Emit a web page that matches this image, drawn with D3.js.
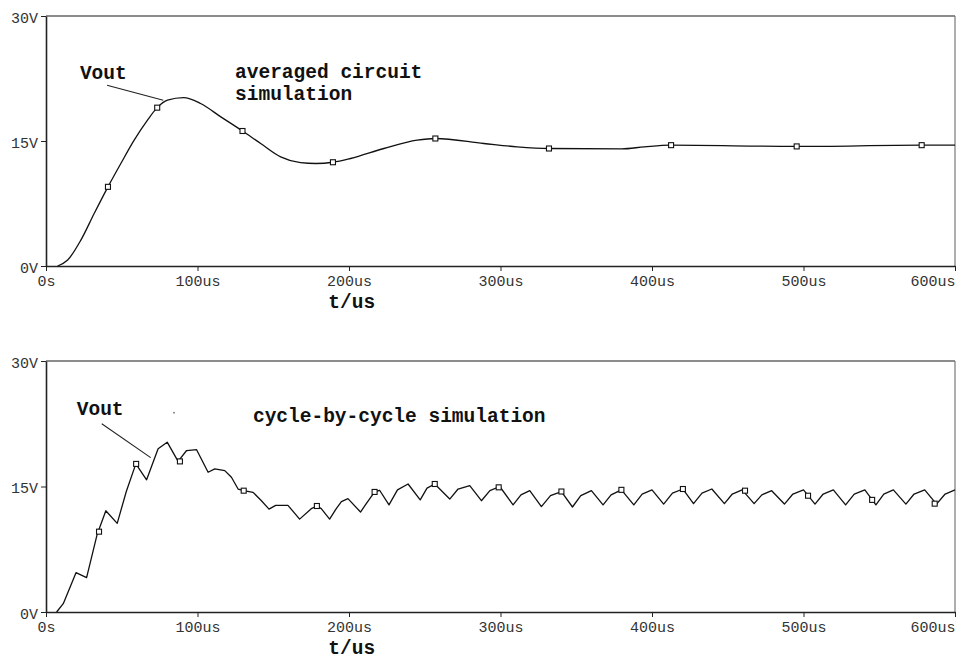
<!DOCTYPE html>
<html>
<head>
<meta charset="utf-8">
<script src="https://d3js.org/d3.v7.min.js"></script>
<style>
  body { margin: 0; background: #fff; }
  svg { display: block; }
  .tick text { font-family: "Liberation Mono", monospace; font-size: 15px; fill: #333; }
  .note { font-family: "Liberation Mono", monospace; font-size: 19.5px; font-weight: bold; fill: #111; }
</style>
</head>
<body>
<div id="chart"></div>
<script>
// time ticks (us) and labels
const timeTicks = [0, 100, 200, 300, 400, 500, 600];
const timeLabels = ["0s", "100us", "200us", "300us", "400us", "500us", "600us"];
const voltTicks = [0, 15, 30];
const voltLabels = ["0V", "15V", "30V"];

// averaged circuit simulation: [t(us), Vout(V)]
const avgCurve = [
    [7.7, 0], [14.3, 0.72], [23, 3.1], [31.8, 6.3], [40.9, 9.5], [49.4, 12.3],
    [58.2, 15.1], [67, 17.5], [73.4, 19.0], [80.2, 19.9], [90.8, 20.2], [102, 19.5],
    [115.4, 17.9], [129.7, 16.2], [141.7, 14.7], [154.9, 13.1], [168, 12.4], [178, 12.3],
    [189.4, 12.45], [201, 12.9], [223, 14.1], [245, 15.1], [257, 15.3], [289, 14.7],
    [311, 14.3], [332, 14.1], [380, 14.05], [395, 14.3], [412, 14.5], [495, 14.35],
    [578, 14.5], [600, 14.5]
];
const avgMarkers = [
    [40.9, 9.5], [73.4, 19.0], [129.7, 16.2], [189.4, 12.45], [257, 15.3],
    [332, 14.1], [412.6, 14.5], [495.5, 14.35], [578, 14.5]
];

// cycle-by-cycle simulation: [t(us), Vout(V)]
const cycleCurve = [
    [7, 0], [11.4, 1.0], [19.8, 4.7], [26.8, 4.1], [33.8, 9.3], [39.5, 12.1],
    [47, 10.6], [53, 14.4], [59.3, 17.7], [66.4, 15.8], [74, 19.5], [80, 20.3],
    [87.2, 18.0], [92.8, 19.3], [99.4, 19.4], [107, 16.7], [111.4, 17.1], [118, 16.9],
    [122.4, 16.1], [126.8, 14.7], [130.5, 14.5], [136.7, 14.3], [142.2, 13.3], [147.2, 12.3],
    [151.6, 12.75], [159.7, 12.75], [167.4, 11.1], [175.1, 12.35], [178.8, 12.67], [181.7, 12.35],
    [187.2, 11.1], [191.6, 12.35], [195, 13.2], [199.3, 13.55], [207.6, 11.95], [211.4, 12.95],
    [216.9, 14.35], [220.2, 14.55], [226.4, 12.8], [232, 14.6], [239, 15.3], [247, 13.4],
    [251.5, 14.8], [256.6, 15.3], [266.5, 13.5], [272, 14.7], [279.7, 15.1], [287.4, 13.3],
    [293, 14.5], [299.5, 15.0], [308.3, 12.8], [313.5, 14.0], [319.3, 14.5], [327, 12.6],
    [333, 13.9], [340.2, 14.4], [347.5, 12.55], [353, 13.9], [360, 14.5], [367.7, 12.8],
    [373, 14.0], [379.8, 14.6], [388, 12.8], [393.5, 14.1], [400, 14.6], [407.7, 12.9],
    [413.5, 14.2], [420.4, 14.7], [427.4, 12.95], [433, 14.2], [439.5, 14.7], [447.8, 12.95],
    [453, 14.1], [459.5, 14.6], [467.4, 12.95], [472.5, 14.0], [479, 14.5], [487.4, 12.9],
    [493, 14.1], [500, 14.6], [507.6, 12.9], [513, 14.1], [519.7, 14.6], [527.8, 12.8],
    [533.5, 14.1], [540.5, 14.6], [547.8, 12.8], [553, 14.1], [559.3, 14.6], [567.6, 12.9],
    [573, 14.1], [580, 14.6], [587.8, 12.9], [593.5, 14.1], [600, 14.6]
];
const cycleMarkers = [
    [35, 9.6], [59.5, 17.7], [88.4, 18.0], [130.5, 14.5], [178.8, 12.67], [216.9, 14.35],
    [256.6, 15.3], [298.8, 14.9], [340.2, 14.4], [379.8, 14.6], [420.4, 14.7], [461.4, 14.5],
    [503, 13.9], [545.3, 13.4], [586.6, 12.95]
];

const W = 956, H = 660;
const svg = d3.select("#chart").append("svg")
    .attr("width", W)
    .attr("height", H);

const x = d3.scaleLinear().domain([0, 600]).range([46, 955]);

function drawPanel(opt) {
    const y = d3.scaleLinear().domain([0, 30]).range([opt.bottom, opt.top]);
    const g = svg.append("g");

    // frame (top and right lines are lighter)
    g.append("line")
        .attr("x1", x(0)).attr("x2", x(600))
        .attr("y1", y(30)).attr("y2", y(30))
        .attr("stroke", "#666").attr("stroke-width", 1.5);
    g.append("line")
        .attr("x1", x(600)).attr("x2", x(600))
        .attr("y1", y(30)).attr("y2", y(0))
        .attr("stroke", "#777").attr("stroke-width", 1.2);

    const xAxis = d3.axisBottom(x)
        .tickValues(timeTicks)
        .tickFormat((d, i) => timeLabels[i])
        .tickSize(5).tickSizeOuter(0).tickPadding(6);
    const xg = g.append("g")
        .attr("transform", `translate(0,${y(0)})`)
        .call(xAxis);
    xg.select(".domain").attr("stroke", "#222").attr("stroke-width", 1.6);
    xg.selectAll(".tick line").attr("stroke", "#222");
    xg.selectAll(".tick text").attr("dy", "0.6em");
    // last label sits against the right edge
    xg.selectAll(".tick:last-of-type text").attr("text-anchor", "end").attr("x", 0);

    const yAxis = d3.axisLeft(y)
        .tickValues(voltTicks)
        .tickFormat((d, i) => voltLabels[i])
        .tickSize(5).tickSizeOuter(0).tickPadding(3);
    const yg = g.append("g")
        .attr("transform", `translate(${x(0)},0)`)
        .call(yAxis);
    yg.select(".domain").attr("stroke", "#222").attr("stroke-width", 1.6);
    yg.selectAll(".tick line").attr("stroke", "#222");
    yg.selectAll(".tick text").attr("dy", "0.42em");

    // x title
    g.append("text")
        .attr("class", "note")
        .attr("x", x(201.8))
        .attr("y", y(0) + 42)
        .attr("text-anchor", "middle")
        .text("t/us");

    // waveform
    const line = d3.line()
        .x(d => x(d[0]))
        .y(d => y(d[1]))
        .curve(opt.curve);
    g.append("path")
        .datum(opt.data)
        .attr("d", line)
        .attr("fill", "none")
        .attr("stroke", "#111")
        .attr("stroke-width", 1.3)
        .attr("stroke-linejoin", "round");

    // markers
    g.selectAll("rect.marker").data(opt.markers).join("rect")
        .attr("class", "marker")
        .attr("x", d => x(d[0]) - 2.5)
        .attr("y", d => y(d[1]) - 2.5)
        .attr("width", 5)
        .attr("height", 5)
        .attr("fill", "#fff")
        .attr("stroke", "#111")
        .attr("stroke-width", 1.1);

    // annotations
    g.append("text").attr("class", "note")
        .attr("x", x(opt.vout[0])).attr("y", y(opt.vout[1]))
        .text("Vout");
    g.append("line")
        .attr("x1", x(opt.pointer[0][0])).attr("y1", y(opt.pointer[0][1]))
        .attr("x2", x(opt.pointer[1][0])).attr("y2", y(opt.pointer[1][1]))
        .attr("stroke", "#222").attr("stroke-width", 1.1);
    opt.title.forEach((t, i) => {
        g.append("text").attr("class", "note")
            .attr("x", x(opt.titlePos[0]))
            .attr("y", y(opt.titlePos[1]) + i * 22)
            .text(t);
    });
    return y;
}

drawPanel({
    top: 16, bottom: 266,
    data: avgCurve, markers: avgMarkers,
    curve: d3.curveMonotoneX,
    vout: [22.4, 22.4],
    pointer: [[40.3, 21.7], [77.4, 19.9]],
    title: ["averaged circuit", "simulation"],
    titlePos: [124.8, 22.56]
});

const yBottom = drawPanel({
    top: 361, bottom: 612,
    data: cycleCurve, markers: cycleMarkers,
    curve: d3.curveLinear,
    vout: [20.3, 23.6],
    pointer: [[36.8, 22.5], [69.1, 18.45]],
    title: ["cycle-by-cycle simulation"],
    titlePos: [136.6, 22.7]
});

// small stray dot in the original picture
svg.append("circle")
    .attr("cx", x(84.5)).attr("cy", yBottom(23.8))
    .attr("r", 1).attr("fill", "#888");
</script>
</body>
</html>
